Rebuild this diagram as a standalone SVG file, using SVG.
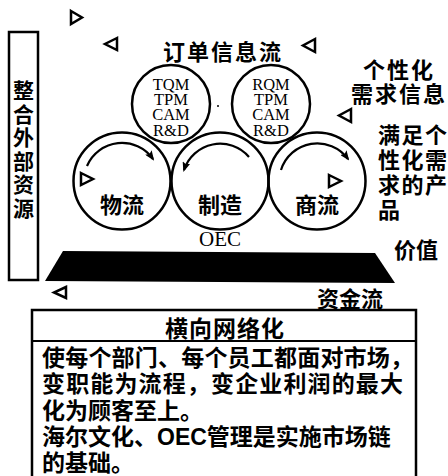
<svg xmlns="http://www.w3.org/2000/svg" width="448" height="476" viewBox="0 0 448 476">
<style>
.cn{font-family:"Noto Sans CJK SC","Noto Sans CJK JP",sans-serif;font-weight:bold;fill:#000}
.lat{font-family:"Liberation Serif",serif;fill:#000}
.ln{fill:none;stroke:#000;stroke-width:2.5}
.tri{fill:#fff;stroke:#000;stroke-width:2.5;stroke-linejoin:miter}
.arc{fill:none;stroke:#000;stroke-width:2.2}
</style>
<defs>
<marker id="ah" markerWidth="10" markerHeight="8" refX="8" refY="4" orient="auto" markerUnits="userSpaceOnUse">
<path d="M0,0 L10,4 L0,8 L2,4 Z" fill="#000"/>
</marker>
</defs>
<rect width="448" height="476" fill="#fff"/>

<g id="external-resources">
<rect x="9" y="32" width="29" height="248" class="ln" stroke-width="2"/>
<g class="cn" font-size="21" text-anchor="middle">
<text x="23.5" y="98">整</text>
<text x="23.5" y="121.5">合</text>
<text x="23.5" y="145">外</text>
<text x="23.5" y="168.5">部</text>
<text x="23.5" y="192">资</text>
<text x="23.5" y="215.5">源</text>
</g>
</g>

<g id="markers">
<path class="tri" d="M71,11 L82,17.5 L71,24 Z"/>
<path class="tri" d="M117,38 L105,44 L117,50 Z"/>
<path class="tri" d="M315,39 L303,45.5 L315,52 Z"/>
<path class="tri" d="M351,109 L339,115.5 L351,122 Z"/>
<path class="tri" d="M81,173 L93,179 L81,185 Z"/>
<path class="tri" d="M329,175 L341,181 L329,187 Z"/>
<path class="tri" d="M66,287 L54,292.5 L66,298 Z"/>
</g>

<g id="order-info-flow">
<text class="cn" x="163" y="60" font-size="22" letter-spacing="2">订单信息流</text>
</g>

<g id="circle-tqm">
<circle cx="171" cy="104" r="39" class="ln"/>
<g class="lat" font-size="16.5" text-anchor="middle">
<text x="171" y="90">TQM</text>
<text x="171" y="105">TPM</text>
<text x="171" y="120">CAM</text>
<text x="171" y="136">R&amp;D</text>
</g>
</g>
<circle cx="218" cy="106" r="1" fill="#000"/>
<g id="circle-rqm">
<circle cx="271" cy="104" r="39" class="ln"/>
<g class="lat" font-size="16.5" text-anchor="middle">
<text x="271" y="90">RQM</text>
<text x="271" y="105">TPM</text>
<text x="271" y="120">CAM</text>
<text x="271" y="136">R&amp;D</text>
</g>
</g>

<g id="logistics">
<circle cx="122" cy="181" r="48.5" class="ln"/>
<text class="cn" x="122" y="213" font-size="22" text-anchor="middle">物流</text>
</g>
<g id="manufacturing">
<circle cx="220" cy="181" r="48.5" class="ln"/>
<text class="cn" x="220" y="213" font-size="22" text-anchor="middle">制造</text>
<text class="lat" x="220" y="246" font-size="21" text-anchor="middle">OEC</text>
</g>
<g id="commerce">
<circle cx="317" cy="181" r="48.5" class="ln"/>
<text class="cn" x="317" y="213" font-size="22" text-anchor="middle">商流</text>
</g>

<g id="connectors">
<path class="arc" d="M87,166 A38,38 0 0 1 153,159" marker-end="url(#ah)"/>
<path class="arc" d="M249,157 A38,38 0 0 0 184,170" marker-end="url(#ah)"/>
<path class="arc" d="M281,170 A38,38 0 0 1 348,159" marker-end="url(#ah)"/>
</g>

<g id="personalized-info">
<text class="cn" x="363" y="78" font-size="22" letter-spacing="2">个性化</text>
<text class="cn" x="351" y="102" font-size="22" letter-spacing="2">需求信息</text>
</g>
<g id="products">
<g class="cn" font-size="22" letter-spacing="1.5">
<text x="378" y="143">满足个</text>
<text x="378" y="168">性化需</text>
<text x="378" y="193">求的产</text>
<text x="378" y="218">品</text>
</g>
</g>
<g id="value">
<text class="cn" x="394" y="258" font-size="22">价值</text>
</g>

<g id="capital-flow">
<path d="M63,251 L375,253 L395,283 L45,281 Z" fill="#000"/>
<text class="cn" x="317" y="307" font-size="22">资金流</text>
</g>

<g id="horizontal-network">
<rect x="32" y="310" width="384" height="170" class="ln" stroke-width="2"/>
<line x1="32" y1="341" x2="416" y2="341" stroke="#000" stroke-width="2"/>
<text class="cn" x="165" y="337" font-size="23" letter-spacing="1">横向网络化</text>
<g class="cn" font-size="23">
<text x="42" y="366" textLength="371" lengthAdjust="spacing">使每个部门、每个员工都面对市场，</text>
<text x="42" y="392" textLength="361" lengthAdjust="spacing">变职能为流程，变企业利润的最大</text>
<text x="42" y="419">化为顾客至上。</text>
<text x="42" y="445">海尔文化、<tspan font-family="Liberation Sans Narrow, Liberation Sans, sans-serif">OEC</tspan>管理是实施市场链</text>
<text x="42" y="471">的基础。</text>
</g>
</g>
</svg>
